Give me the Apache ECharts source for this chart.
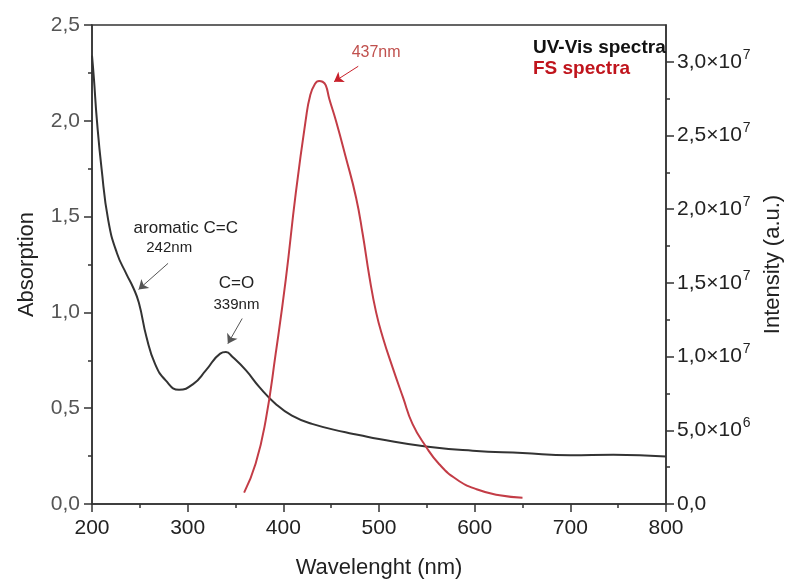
<!DOCTYPE html>
<html>
<head>
<meta charset="utf-8">
<script src="https://cdn.jsdelivr.net/npm/echarts@6/dist/echarts.min.js"></script>
<style>html,body{margin:0;padding:0;background:#fff;}#c{width:785px;height:580px;}</style>
</head>
<body>
<div id="c"></div>
<script>
// ---- data ----
const uvWavelength = [200,202,205,210,217,226,236,243,249,257,266,277,291,306,319,334,340,347,361,375,392,409,430,465,479,500,549,598,650,700,745,800];
const uvAbsorption = [2.34,2.22,2.01,1.75,1.48,1.31,1.20,1.13,1.05,0.87,0.73,0.645,0.596,0.627,0.697,0.785,0.793,0.767,0.697,0.61,0.522,0.461,0.418,0.374,0.36,0.339,0.30,0.278,0.266,0.255,0.257,0.248];

const fsWavelength = [359,371,381.5,392,402.5,413,423.5,428,433,437.4,441,444.4,448,455,465,476,483,490,497,504,514,525,535,549,563,581,602,626,650];
const fsIntensity = [0.77e6,2.73e6,5.66e6,10.2e6,15.2e6,21.1e6,26.1e6,27.7e6,28.5e6,28.7e6,28.65e6,28.4e6,27.5e6,26.0e6,23.6e6,20.8e6,18.3e6,15.4e6,13.0e6,11.3e6,9.3e6,7.25e6,5.44e6,3.9e6,2.7e6,1.68e6,1.0e6,0.59e6,0.43e6];

const rightTickValues = [0, 5e6, 1e7, 1.5e7, 2e7, 2.5e7, 3e7];

const seriesNames = ['UV-Vis spectra', 'FS spectra'];
const xAxisTitle = 'Wavelenght (nm)';
const yLeftTitle = 'Absorption';
const yRightTitle = 'Intensity (a.u.)';

// annotations in data coordinates
const uvLabels = [
  {text: 'aromatic C=C', x: 298, y: 1.44, size: 17},
  {text: '242nm', x: 280.7, y: 1.335, size: 15},
  {text: 'C=O', x: 351, y: 1.151, size: 17},
  {text: '339nm', x: 351, y: 1.041, size: 15}
];
const uvArrows = [
  [[279.5, 1.256], [248.7, 1.12]],
  [[357, 0.968], [342, 0.837]]
];
const fsLabels = [{text: '437nm', x: 497, y: 30.6e6, size: 16}];
const fsArrows = [[[478.3, 29.7e6], [453, 28.65e6]]];

// ---- chart ----
const FONT = '"Liberation Sans", Arial, sans-serif';
const RED = '#c33c46';
const zip = (a, b) => a.map((v, i) => [v, b[i]]);
const fmtComma = v => v.toFixed(1).replace('.', ',');

const chart = echarts.init(document.getElementById('c'), null, {renderer: 'canvas'});

const mkLabels = (arr, color) => arr.map(l => ({
  coord: [l.x, l.y], symbolSize: 0,
  label: {show: true, position: 'inside', formatter: l.text, color: color, fontSize: l.size, fontFamily: FONT}
}));
const mkArrows = (arr, color) => arr.map(a => [
  {coord: a[0], lineStyle: {color: color, width: 1, type: 'solid'}},
  {coord: a[1]}
]);

chart.setOption({
  animation: false,
  backgroundColor: '#fff',
  grid: {left: 92, right: 119, top: 25, bottom: 76, outerBoundsMode: 'none', containLabel: false,
    show: true, borderColor: '#333', borderWidth: 1.5, backgroundColor: 'transparent'},
  legend: {
    orient: 'vertical', left: 522, top: 33, itemWidth: 0, itemHeight: 0, itemGap: 2,
    selectedMode: false,
    textStyle: {fontFamily: FONT, fontSize: 19, fontWeight: 'bold'},
    data: [
      {name: seriesNames[0], textStyle: {color: '#111'}},
      {name: seriesNames[1], textStyle: {color: '#c0141c'}}
    ]
  },
  xAxis: {
    type: 'value', min: 200, max: 800, interval: 100,
    name: xAxisTitle, nameLocation: 'middle', nameGap: 53,
    nameTextStyle: {fontFamily: FONT, fontSize: 22, color: '#222'},
    axisLine: {lineStyle: {color: '#333', width: 1.5}},
    axisTick: {inside: false, length: 8, lineStyle: {color: '#333', width: 1.5}},
    minorTick: {show: true, splitNumber: 2, length: 4, lineStyle: {color: '#333', width: 1.5}},
    axisLabel: {fontFamily: FONT, fontSize: 21, color: '#222', margin: 14},
    splitLine: {show: false}
  },
  yAxis: [
    {
      type: 'value', min: 0, max: 2.5, interval: 0.5, position: 'left',
      name: yLeftTitle, nameLocation: 'middle', nameGap: 54, nameRotate: 90,
      nameTextStyle: {fontFamily: FONT, fontSize: 22, color: '#222'},
      axisLine: {show: true, lineStyle: {color: '#333', width: 1.5}},
      axisTick: {show: true, length: 8, lineStyle: {color: '#333', width: 1.5}},
      minorTick: {show: true, splitNumber: 2, length: 4, lineStyle: {color: '#333', width: 1.5}},
      axisLabel: {fontFamily: FONT, fontSize: 21, color: '#555', margin: 12, formatter: v => fmtComma(v)},
      splitLine: {show: false}
    },
    {
      type: 'value', min: 0, max: 3.25e7, interval: 5e6, position: 'right',
      name: yRightTitle, nameLocation: 'middle', nameGap: 94, nameRotate: 90,
      nameTextStyle: {fontFamily: FONT, fontSize: 22, color: '#222'},
      axisLine: {show: true, lineStyle: {color: '#333', width: 1.5}},
      axisTick: {show: true, length: 8, customValues: rightTickValues, lineStyle: {color: '#333', width: 1.5}},
      minorTick: {show: true, splitNumber: 2, length: 4, lineStyle: {color: '#333', width: 1.5}},
      axisLabel: {
        margin: 11,
        customValues: rightTickValues,
        formatter: v => {
          if (v === 0) return '{b|0,0}';
          const e = Math.floor(Math.log10(v) + 1e-9);
          const m = v / Math.pow(10, e);
          return '{b|' + fmtComma(m) + '×10}{s|' + e + '}';
        },
        rich: {
          b: {fontFamily: FONT, fontSize: 21, color: '#222'},
          s: {fontFamily: FONT, fontSize: 14, color: '#222', lineHeight: 14, padding: [0, 0, 14, 1]}
        }
      },
      splitLine: {show: false}
    }
  ],
  series: [
    {
      name: seriesNames[0], type: 'line', yAxisIndex: 0, showSymbol: false, smooth: 0.5,
      data: zip(uvWavelength, uvAbsorption),
      lineStyle: {color: '#333', width: 2}, itemStyle: {color: '#333'},
      markPoint: {silent: true, data: mkLabels(uvLabels, '#222')},
      markLine: {silent: true, symbol: ['none', 'arrow'], symbolSize: 9, label: {show: false},
        data: mkArrows(uvArrows, '#555')}
    },
    {
      name: seriesNames[1], type: 'line', yAxisIndex: 1, showSymbol: false, smooth: 0.5,
      data: zip(fsWavelength, fsIntensity),
      lineStyle: {color: RED, width: 2}, itemStyle: {color: RED},
      markPoint: {silent: true, data: mkLabels(fsLabels, '#c0504d')},
      markLine: {silent: true, symbol: ['none', 'arrow'], symbolSize: 9, label: {show: false},
        data: mkArrows(fsArrows, '#c8202a')}
    }
  ]
});
</script>
</body>
</html>
